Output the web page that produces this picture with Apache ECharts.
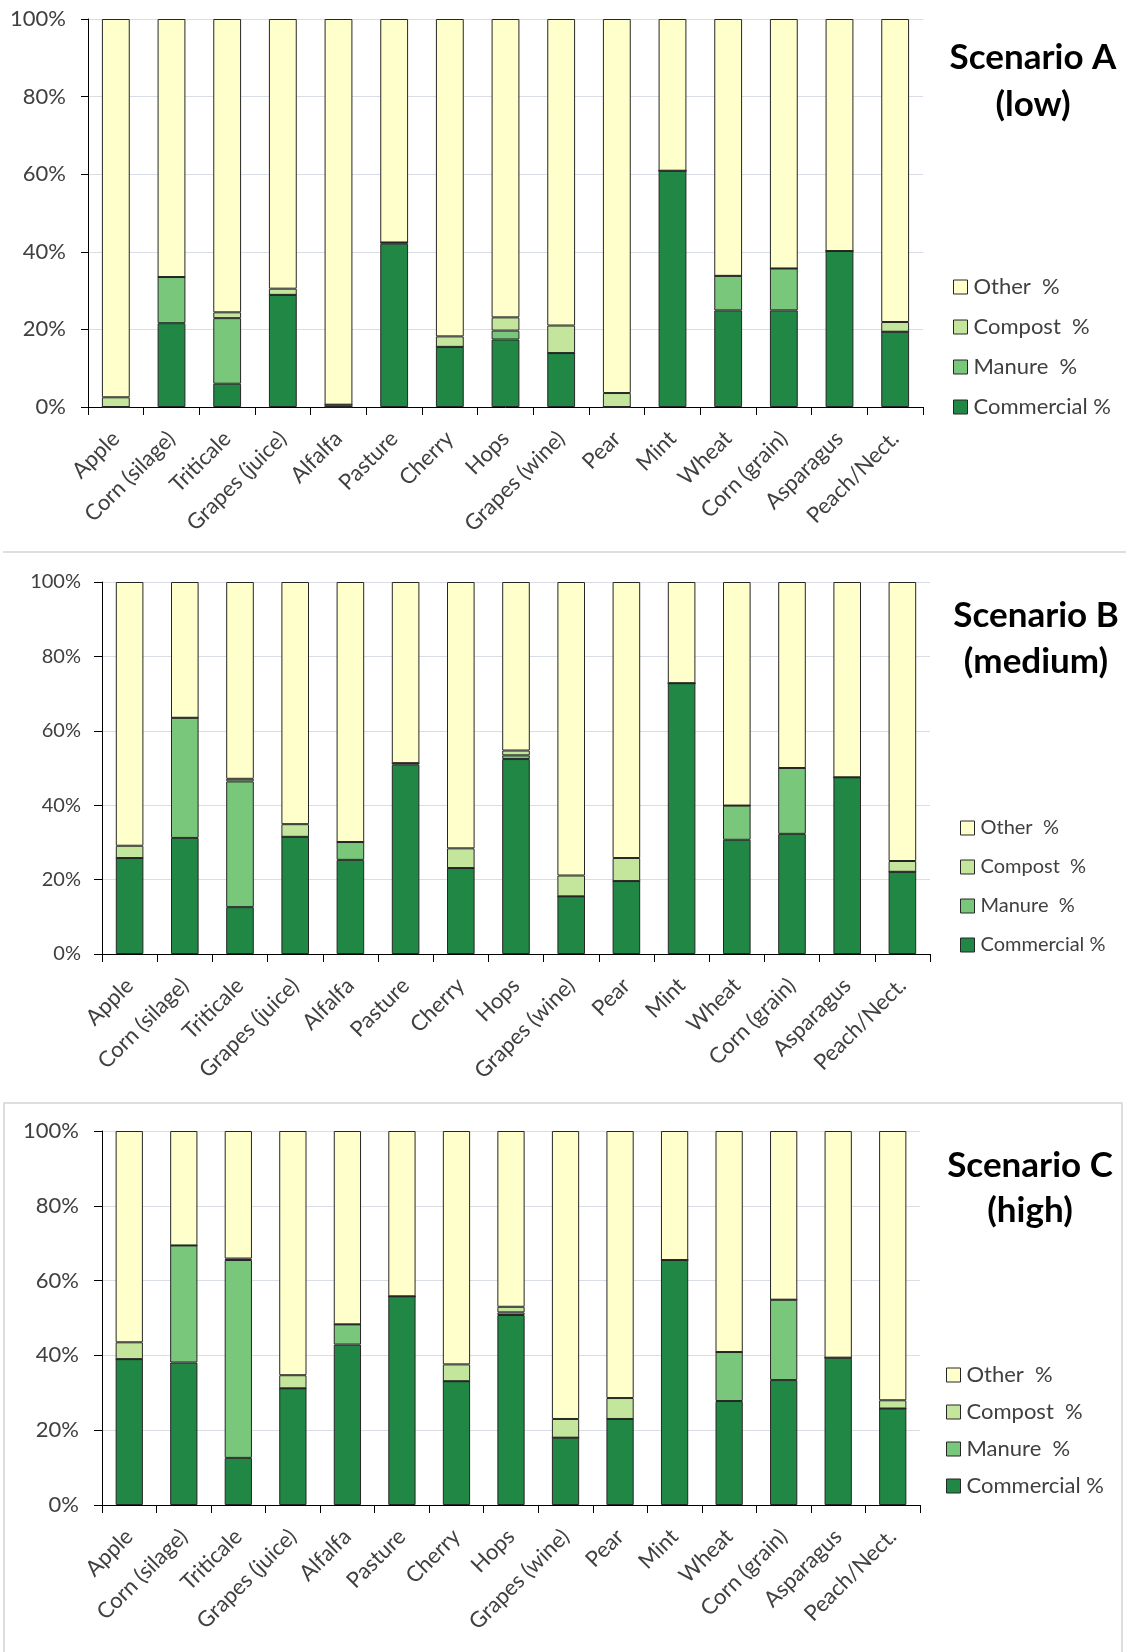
<!DOCTYPE html>
<html><head><meta charset="utf-8">
<script src="https://cdn.jsdelivr.net/npm/echarts@6/dist/echarts.min.js"></script>
<style>html,body{margin:0;padding:0;background:#fff}#c{width:1126px;height:1652px}</style>
</head><body><div id="c"></div>
<script>
// ---------- data ----------
const categories = ['Apple','Corn (silage)','Triticale','Grapes (juice)','Alfalfa','Pasture','Cherry','Hops','Grapes (wine)','Pear','Mint','Wheat','Corn (grain)','Asparagus','Peach/Nect.'];
const seriesNames = ['Commercial %','Manure  %','Compost  %','Other  %'];
const legendOrder = ['Other  %','Compost  %','Manure  %','Commercial %'];
const panelTitles = ['Scenario A\n(low)','Scenario B\n(medium)','Scenario C\n(high)'];
const yTicks = [0,20,40,60,80,100];

// Scenario A (low)
const aCommercial = [0, 21.6, 6.0, 28.9, 0, 42.1, 15.5, 17.4, 13.9, 0, 60.9, 24.9, 24.9, 40.2, 19.4];
const aManure     = [0, 11.9, 16.9, 0, 0.6, 0.3, 0, 2.3, 0, 0, 0, 8.9, 10.8, 0, 0];
const aCompost    = [2.5, 0, 1.5, 1.6, 0, 0, 2.7, 3.4, 7.1, 3.6, 0, 0, 0, 0, 2.5];
const aOther      = [97.5, 66.5, 75.6, 69.5, 99.4, 57.6, 81.8, 76.9, 79.0, 96.4, 39.1, 66.2, 64.3, 59.8, 78.1];

// Scenario B (medium)
const bCommercial = [25.8, 31.2, 12.6, 31.5, 25.3, 50.9, 23.1, 52.4, 15.5, 19.6, 72.8, 30.7, 32.3, 47.5, 22.1];
const bManure     = [0, 32.3, 33.8, 0, 4.8, 0.4, 0, 1.0, 0, 0, 0, 9.2, 17.7, 0, 0];
const bCompost    = [3.3, 0, 0.7, 3.4, 0, 0, 5.3, 1.3, 5.6, 6.2, 0, 0, 0, 0, 2.9];
const bOther      = [70.9, 36.5, 52.9, 65.1, 69.9, 48.7, 71.6, 45.3, 78.9, 74.2, 27.2, 60.1, 50.0, 52.5, 75.0];

// Scenario C (high)
const cCommercial = [39.0, 38.1, 12.6, 31.2, 42.9, 55.8, 33.1, 50.8, 18.0, 23.0, 65.5, 27.8, 33.4, 39.4, 25.8];
const cManure     = [0, 31.3, 52.9, 0, 5.4, 0, 0, 0.7, 0, 0, 0, 13.1, 21.5, 0, 0];
const cCompost    = [4.5, 0, 0.4, 3.5, 0, 0, 4.5, 1.5, 5.0, 5.6, 0, 0, 0, 0, 2.2];
const cOther      = [56.5, 30.6, 34.1, 65.3, 51.7, 44.2, 62.4, 47.0, 77.0, 71.4, 34.5, 59.1, 45.1, 60.6, 72.0];

const panelData = [
  [aCommercial, aManure, aCompost, aOther],
  [bCommercial, bManure, bCompost, bOther],
  [cCommercial, cManure, cCompost, cOther]
];

// ---------- styling ----------
const colors = ['#218744', '#79c77a', '#c4e69c', '#ffffcc'];
const FONT = 'Lato, "Open Sans", sans-serif';
const layout = [
  {grid:{left:88, top:19, width:835, height:388}, yFont:22, yMargin:22, yTick:7, xFont:22, xMargin:28,
   title:{left:1028, top:29, lh:47}, legend:{left:948, top:271, gap:18, font:22}},
  {grid:{left:102, top:582, width:828, height:372}, yFont:20, yMargin:21, yTick:8, xFont:22, xMargin:28,
   title:{left:1031, top:588, lh:46}, legend:{left:955, top:813, gap:19, font:20}},
  {grid:{left:102, top:1131, width:818, height:374}, yFont:22, yMargin:23, yTick:8, xFont:22, xMargin:28,
   title:{left:1025, top:1138, lh:45}, legend:{left:941, top:1359, gap:15, font:22}}
];

const grids = [], xAxes = [], yAxes = [], series = [], titles = [], legends = [];
layout.forEach((L, p) => {
  grids.push(Object.assign({containLabel:false}, L.grid));
  xAxes.push({
    type:'category', gridIndex:p, data:categories,
    axisLine:{show:true, lineStyle:{color:'#000', width:1}},
    axisTick:{show:true, length:8, lineStyle:{color:'#000'}},
    axisLabel:{rotate:45, interval:0, margin:L.xMargin, fontSize:L.xFont, color:'#404040', fontFamily:FONT}
  });
  yAxes.push({
    type:'value', gridIndex:p, min:0, max:100, interval:20,
    axisLine:{show:true, lineStyle:{color:'#000', width:1}},
    axisTick:{show:true, length:L.yTick, lineStyle:{color:'#000'}},
    splitLine:{show:true, lineStyle:{color:'#d9dde6', width:1}},
    axisLabel:{formatter:'{value}%', fontSize:L.yFont, margin:L.yMargin, color:'#404040', fontFamily:FONT}
  });
  seriesNames.forEach((nm, k) => {
    series.push({
      type:'bar', name:nm, stack:'s'+p, xAxisIndex:p, yAxisIndex:p,
      data:panelData[p][k], barWidth:'50%',
      itemStyle:{color:colors[k], borderColor:'#262626', borderWidth:1},
      emphasis:{disabled:true}, animation:false
    });
  });
  titles.push({
    text:panelTitles[p], left:L.title.left, top:L.title.top, textAlign:'center',
    textStyle:{fontSize:35, fontWeight:'bold', color:'#000', lineHeight:L.title.lh, fontFamily:FONT}
  });
  legends.push({
    data:legendOrder, orient:'vertical', left:L.legend.left, top:L.legend.top,
    itemWidth:14, itemHeight:14, itemGap:L.legend.gap, icon:'rect', selectedMode:false,
    itemStyle:{borderColor:'#262626', borderWidth:1},
    textStyle:{fontSize:L.legend.font, color:'#404040', fontFamily:FONT, padding:[0,0,0,1]}
  });
});

const chart = echarts.init(document.getElementById('c'), null, {renderer:'canvas'});
chart.setOption({
  backgroundColor:'#fff',
  animation:false,
  title:titles, legend:legends, grid:grids, xAxis:xAxes, yAxis:yAxes, series:series,
  graphic:[
    {type:'line', shape:{x1:3, y1:552, x2:1126, y2:552}, style:{stroke:'#d4d4d4', lineWidth:1.5}},
    {type:'rect', shape:{x:4, y:1103, width:1118, height:600}, style:{fill:'none', stroke:'#d4d4d4', lineWidth:1.5}}
  ]
});
</script></body></html>
